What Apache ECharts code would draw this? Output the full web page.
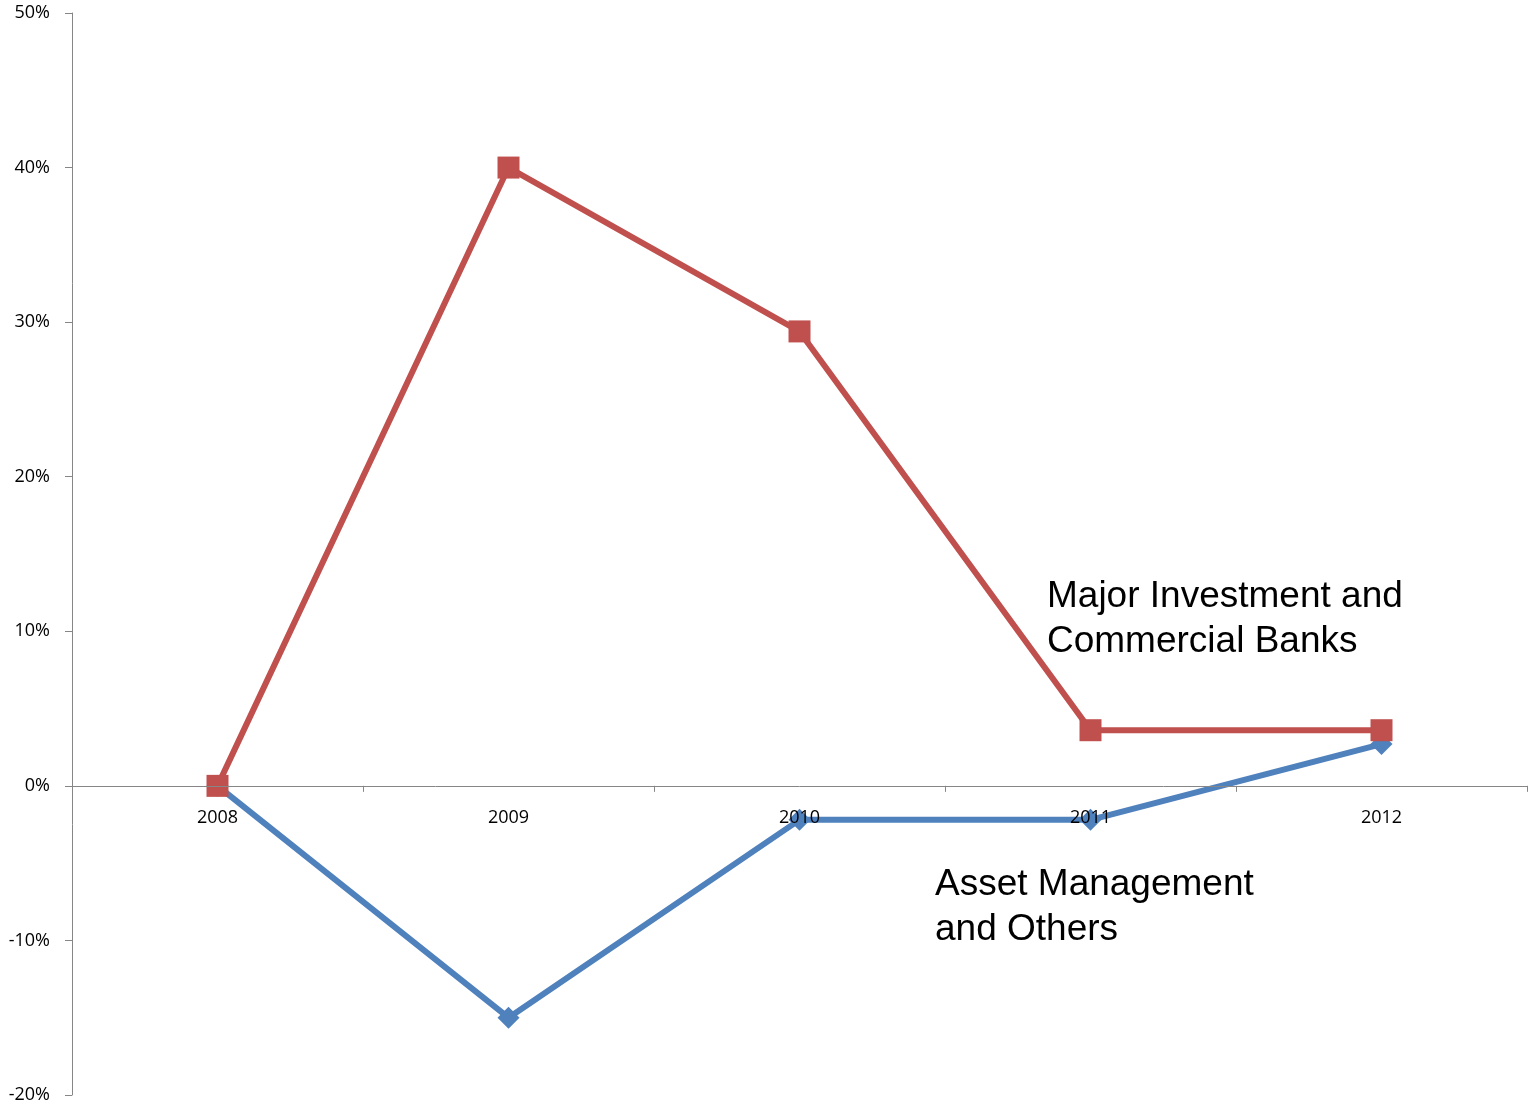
<!DOCTYPE html>
<html>
<head>
<meta charset="utf-8">
<script src="https://cdn.jsdelivr.net/npm/echarts@6/dist/echarts.min.js"></script>
<style>
  html, body { margin: 0; padding: 0; background: #fff; }
  #chart { width: 1528px; height: 1107px; }
</style>
</head>
<body>
<div id="chart"></div>
<script>
// Year-over-year change, in percent
const years = ['2008', '2009', '2010', '2011', '2012'];
const banksValues = [0, 40, 29.4, 3.6, 3.6];
const assetMgmtValues = [0, -15, -2.2, -2.2, 2.7];
const yTicks = { min: -20, max: 50, interval: 10 };

const axisGrey = '#868686';
const tickFont = { fontFamily: '"Open Sans", "Noto Sans", sans-serif', fontSize: 18, color: '#000' };

const gridBox = { left: 72, right: 1, top: 13, bottom: 12 };
const plotHeight = 1107 - gridBox.top - gridBox.bottom;
// lift the category axis from the bottom edge up to the 0% line
const zeroOffset = -plotHeight * (0 - yTicks.min) / (yTicks.max - yTicks.min);

const chart = echarts.init(document.getElementById('chart'));
chart.setOption({
  animation: false,
  grid: Object.assign({ containLabel: false, outerBoundsMode: 'none' }, gridBox),
  xAxis: {
    type: 'category',
    data: years,
    position: 'bottom',
    offset: zeroOffset,
    z: 4,
    boundaryGap: true,
    axisLine: { onZero: false, lineStyle: { color: axisGrey, width: 1 } },
    axisTick: { show: true, length: 6, inside: false, lineStyle: { color: axisGrey } },
    axisLabel: Object.assign({ margin: 23 }, tickFont),
    splitLine: { show: false }
  },
  yAxis: {
    type: 'value',
    min: yTicks.min,
    max: yTicks.max,
    interval: yTicks.interval,
    axisLine: { show: true, onZero: false, lineStyle: { color: axisGrey, width: 1 } },
    axisTick: { show: true, length: 7, lineStyle: { color: axisGrey } },
    axisLabel: Object.assign({ margin: 22, formatter: v => v + '%' }, tickFont),
    splitLine: { show: false }
  },
  series: [
    {
      name: 'Asset Management and Others',
      type: 'line',
      data: assetMgmtValues,
      symbol: 'diamond',
      symbolSize: 22,
      lineStyle: { color: '#4F81BD', width: 6 },
      itemStyle: { color: '#4F81BD' },
      z: 2
    },
    {
      name: 'Major Investment and Commercial Banks',
      type: 'line',
      data: banksValues,
      symbol: 'rect',
      symbolSize: 22,
      lineStyle: { color: '#C0504D', width: 6 },
      itemStyle: { color: '#C0504D' },
      z: 3
    }
  ],
  graphic: [
    {
      type: 'text',
      left: 1047,
      top: 574,
      style: {
        text: 'Major Investment and\nCommercial Banks',
        font: '37px "Liberation Sans", Arial, sans-serif',
        lineHeight: 45,
        fill: '#000'
      }
    },
    {
      type: 'text',
      left: 935,
      top: 862,
      style: {
        text: 'Asset Management\nand Others',
        font: '37px "Liberation Sans", Arial, sans-serif',
        lineHeight: 45,
        fill: '#000'
      }
    }
  ]
});
</script>
</body>
</html>
